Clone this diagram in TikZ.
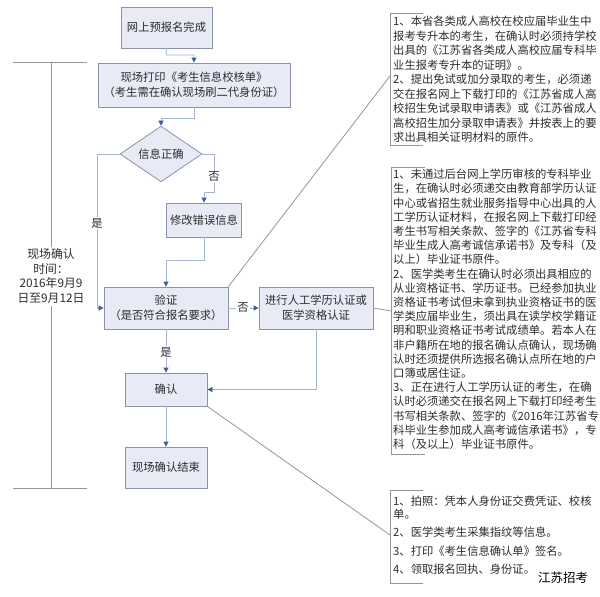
\documentclass[tikz,border=0pt]{standalone}
\usepackage{fontspec}
\setmainfont{Noto Sans CJK SC}
\usetikzlibrary{arrows.meta,shapes.geometric}
\definecolor{boxfill}{RGB}{232,234,246}
\definecolor{boxborder}{RGB}{140,146,170}
\definecolor{connline}{RGB}{165,180,210}
\definecolor{arrowcol}{RGB}{59,92,154}
\definecolor{grayline}{RGB}{150,150,150}
\definecolor{txt}{RGB}{45,45,45}
\newcommand{\fsz}[2]{\fontsize{#1}{#2}\selectfont}
\begin{document}
\begin{tikzpicture}[x=1pt,y=-1pt,
  flowbox/.style={draw=boxborder,fill=boxfill,line width=0.8pt,inner sep=0pt,align=center,text=txt,font=\fsz{11.3}{15}},
  decision/.style={diamond,draw=boxborder,fill=boxfill,line width=0.8pt,inner sep=0pt,text=txt,font=\fsz{11.3}{15}},
  conn/.style={draw=connline,line width=0.8pt,-{Triangle[length=5pt,width=5pt,color=arrowcol]}},
  grayl/.style={draw=grayline,line width=0.8pt},
  lbl/.style={fill=white,inner sep=1pt,text=txt,font=\fsz{11.3}{14}},
  notetext/.style={anchor=north west,inner sep=0pt,align=left,text=txt,font=\fsz{11.3}{14.2}}
]
\useasboundingbox (0,0) rectangle (600,597);
\fill[white] (0,0) rectangle (600,597);

% flow boxes
\node[flowbox,minimum width=91pt,minimum height=41pt] (b1) at (166.5,27.5) {网上预报名完成};
\node[flowbox,minimum width=192pt,minimum height=44pt] (b2) at (194,85) {现场打印《考生信息校核单》\\（考生需在确认现场刷二代身份证）};
\node[decision,minimum width=82pt,minimum height=49pt] (d) at (161,154) {信息正确};
\node[flowbox,minimum width=75pt,minimum height=34pt] (b3) at (204,220) {修改错误信息};
\node[flowbox,minimum width=124pt,minimum height=42pt] (b4) at (166,308) {验证\\（是否符合报名要求）};
\node[flowbox,minimum width=114pt,minimum height=42pt] (b5) at (316,308) {进行人工学历认证或\\医学资格认证};
\node[flowbox,minimum width=82pt,minimum height=33pt] (b6) at (166,389.5) {确认};
\node[flowbox,minimum width=82pt,minimum height=41pt] (b7) at (166,467.5) {现场确认结束};

% flow connectors
\coordinate (c1) at (166,55);
\draw[conn] (b1.south) -- (c1) -| (b2.north);
\coordinate (c2) at (194,118);
\draw[conn] (b2.south) -- (c2) -| (d.north);
\coordinate (c3) at (214,154);
\coordinate (c4) at (214,192);
\draw[conn] (d.east) -- (c3) -- (c4) -| (b3.north);
\node[lbl] (no1) at (214,177) {否};
\coordinate (c5) at (97,154);
\draw[conn] (d.west) -- (c5) |- (b4.west);
\node[lbl] (yes1) at (97,223) {是};
\coordinate (c6) at (204,260);
\draw[conn] (b3.south) -- (c6) -| (b4.north);
\draw[conn] (b4.east) -- (b5.west);
\node[lbl] (no2) at (243,308) {否};
\draw[conn] (b4.south) -- (b6.north);
\node[lbl] (yes2) at (166,352) {是};
\draw[conn] (b5.south) |- (b6.east);
\draw[conn] (b6.south) -- (b7.north);

% timeline
\coordinate (t1) at (13,62);
\coordinate (t2) at (87,62);
\coordinate (t3) at (51,62);
\coordinate (t4) at (51,488);
\coordinate (t5) at (13,488);
\coordinate (t6) at (87,488);
\draw[grayl] (t1) -- (t2);
\draw[grayl] (t3) -- (t4);
\draw[grayl] (t5) -- (t6);
\node[fill=white,inner sep=2pt,align=center,text=txt,font=\fsz{11.8}{14.7}] (tl) at (51,276) {现场确认\\时间：\\2016年9月9\\日至9月12日};

% note brackets
\coordinate (n1a) at (423,13);
\coordinate (n1b) at (390,13);
\coordinate (n1c) at (390,145);
\coordinate (n1d) at (423,145);
\draw[grayl] (n1a) -- (n1b) -- (n1c) -- (n1d);
\coordinate (n2a) at (425,167);
\coordinate (n2b) at (391,167);
\coordinate (n2c) at (391,454);
\coordinate (n2d) at (425,454);
\draw[grayl] (n2a) -- (n2b) -- (n2c) -- (n2d);
\coordinate (n3a) at (423,490);
\coordinate (n3b) at (390,490);
\coordinate (n3c) at (390,583);
\coordinate (n3d) at (423,583);
\draw[grayl] (n3a) -- (n3b) -- (n3c) -- (n3d);

% pointer lines
\coordinate (p1) at (390,76);
\coordinate (p2) at (391,311);
\coordinate (p3) at (390,535);
\draw[grayl] (b4.north east) -- (p1);
\draw[grayl] (b5.east) -- (p2);
\draw[grayl] (b6.south east) -- (p3);

% notes
\node[notetext,font=\fsz{11.3}{14.5}] (note1) at (393,16) {1、本省各类成人高校在校应届毕业生中\\报考专升本的考生，在确认时必须持学校\\出具的《江苏省各类成人高校应届专科毕\\业生报考专升本的证明》。\\2、提出免试或加分录取的考生，必须递\\交在报名网上下载打印的《江苏省成人高\\校招生免试录取申请表》或《江苏省成人\\高校招生加分录取申请表》并按表上的要\\求出具相关证明材料的原件。};
\node[notetext] (note2) at (393,169) {1、未通过后台网上学历审核的专科毕业\\生，在确认时必须递交由教育部学历认证\\中心或省招生就业服务指导中心出具的人\\工学历认证材料，在报名网上下载打印经\\考生书写相关条款、签字的《江苏省专科\\毕业生成人高考诚信承诺书》及专科（及\\以上）毕业证书原件。\\2、医学类考生在确认时必须出具相应的\\从业资格证书、学历证书。已经参加执业\\资格证书考试但未拿到执业资格证书的医\\学类应届毕业生，须出具在读学校学籍证\\明和职业资格证书考试成绩单。若本人在\\非户籍所在地的报名确认点确认，现场确\\认时还须提供所选报名确认点所在地的户\\口簿或居住证。\\3、正在进行人工学历认证的考生，在确\\认时必须递交在报名网上下载打印经考生\\书写相关条款、签字的《2016年江苏省专\\科毕业生参加成人高考诚信承诺书》，专\\科（及以上）毕业证书原件。};
\node[notetext,font=\fsz{11.3}{13.6}] (note3) at (393,495.5) {1、拍照：凭本人身份证交费凭证、校核\\单。\\[4pt]2、医学类考生采集指纹等信息。\\[5pt]3、打印《考生信息确认单》签名。\\[5pt]4、领取报名回执、身份证。};
\node[inner sep=0pt,text=black,font=\fsz{12.5}{14}] (src) at (563,578) {江苏招考};
\end{tikzpicture}
\end{document}
